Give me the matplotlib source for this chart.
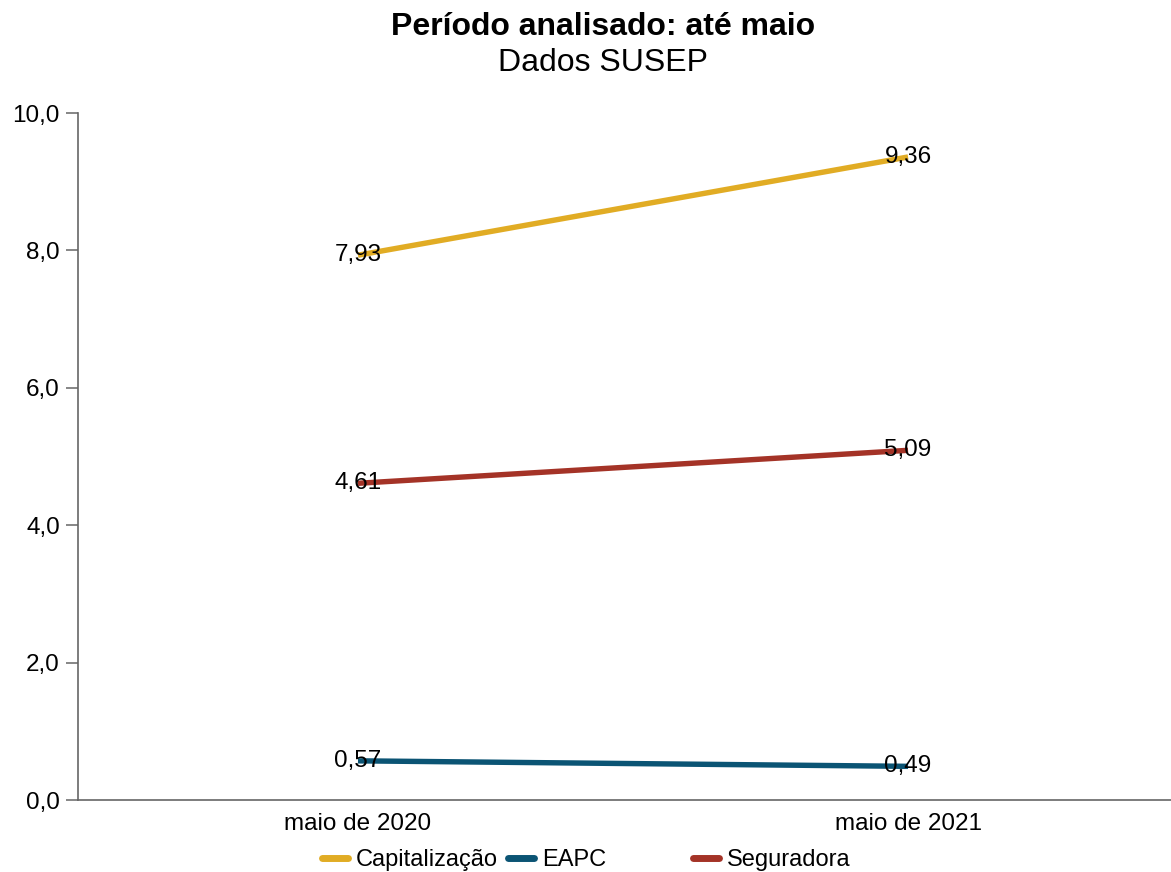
import matplotlib.pyplot as plt
from matplotlib.lines import Line2D

plt.rcParams['font.family'] = ['Liberation Sans', 'DejaVu Sans']

# Dados
periodos = ["maio de 2020", "maio de 2021"]
capitalizacao = [7.93, 9.36]
eapc = [0.57, 0.49]
seguradora = [4.61, 5.09]
series = ["Capitalização", "EAPC", "Seguradora"]
cores = ["#E1AC24", "#0B5474", "#A43327"]
yticks = [0, 2, 4, 6, 8, 10]

fig = plt.figure(figsize=(11.71, 8.72), dpi=100)
ax = fig.add_axes([78 / 1171, 72 / 872, 1 - 78 / 1171, (800 - 113) / 872])

xs = list(range(len(periodos)))
for valores, cor in zip([capitalizacao, eapc, seguradora], cores):
    ax.plot(xs, valores, color=cor, lw=3.9, solid_capstyle="butt")
    for x, v in zip(xs, valores):
        ax.text(x, v, f"{v:.2f}".replace(".", ","), ha="center", va="center",
                fontsize=17.5, color="black")

ax.set_xlim(-0.509, 1.478)
ax.set_ylim(0, 10)
ax.set_xticks(xs)
ax.set_xticklabels(periodos, fontsize=17.5)
ax.set_yticks(yticks)
ax.set_yticklabels([f"{t:.1f}".replace(".", ",") for t in yticks], fontsize=17.5)
ax.tick_params(axis="x", length=0, pad=9)
ax.tick_params(axis="y", length=9, width=1.1, color="#666666", pad=4)

for lado in ["top", "right"]:
    ax.spines[lado].set_visible(False)
for lado in ["left", "bottom"]:
    ax.spines[lado].set_color("#666666")
    ax.spines[lado].set_linewidth(1.2)

# Legenda em colunas de largura fixa
posicoes = [322, 508, 693]
for nome, cor, px in zip(series, cores, posicoes):
    h = Line2D([], [], color=cor, lw=5, solid_capstyle="round")
    fig.legend([h], [nome], loc="center left", bbox_to_anchor=(px / 1171, 1 - 860 / 872),
               frameon=False, fontsize=17, handlelength=1.1, handletextpad=0.35,
               borderpad=0, borderaxespad=0)

fig.text(603 / 1171, 1 - 27 / 872, "Período analisado: até maio", ha="center", va="center",
         fontsize=23, fontweight="bold")
fig.text(603 / 1171, 1 - 63 / 872, "Dados SUSEP", ha="center", va="center", fontsize=23)

fig.savefig("out.png", dpi=100)
